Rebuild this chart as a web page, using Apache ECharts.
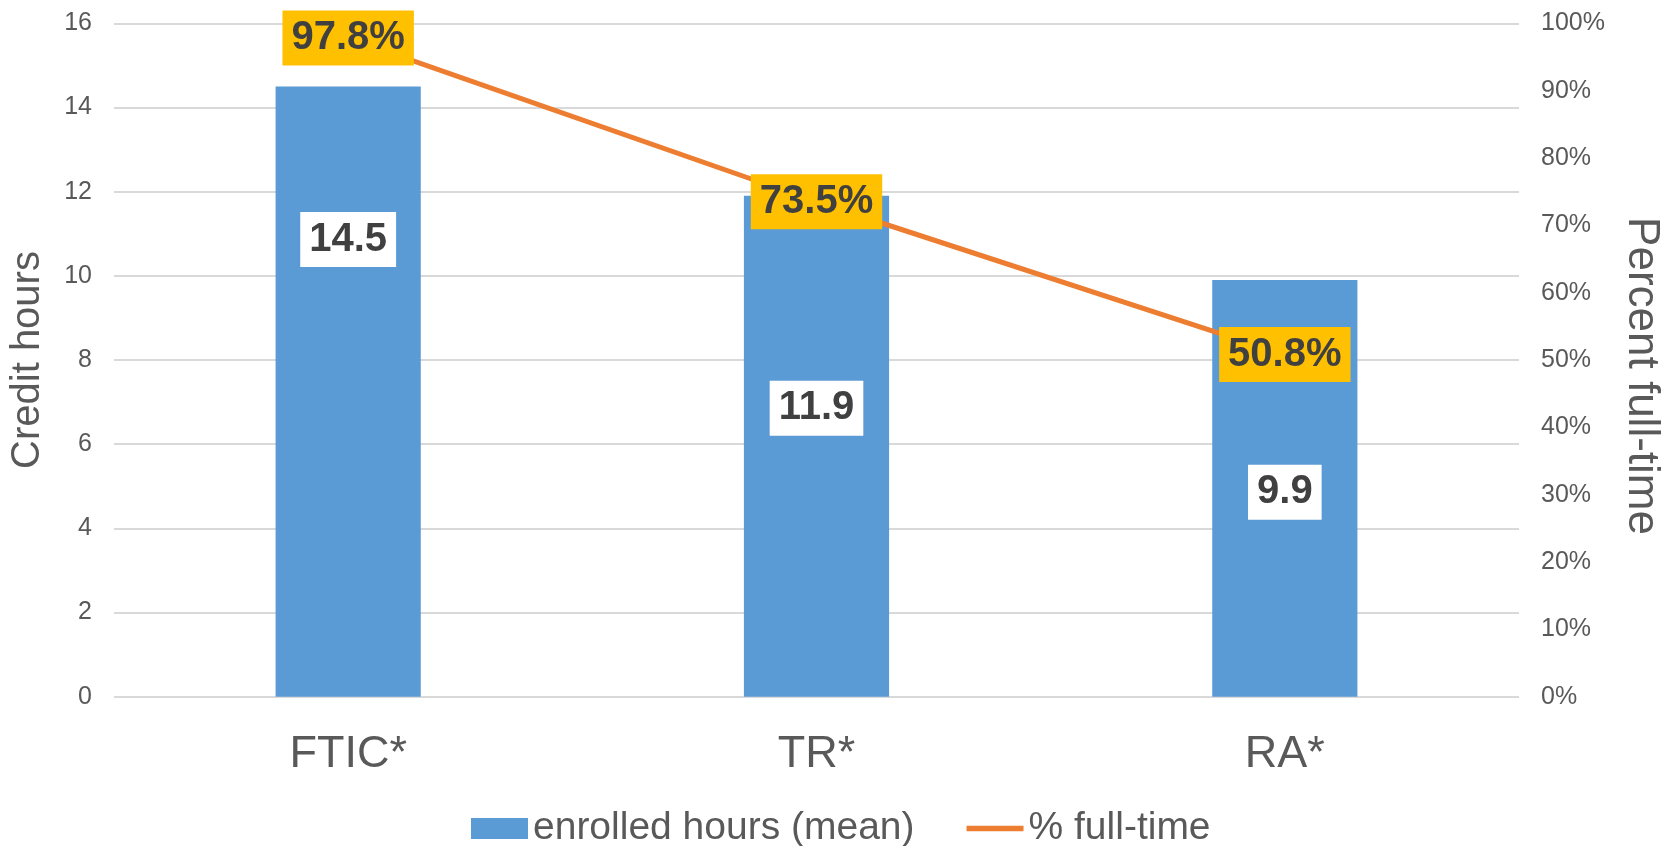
<!DOCTYPE html>
<html>
<head>
<meta charset="utf-8">
<script src="https://cdn.jsdelivr.net/npm/echarts@6/dist/echarts.min.js"></script>
<style>
  html, body { margin: 0; padding: 0; background: #fff; }
  #chart { width: 1671px; height: 846px; }
</style>
</head>
<body>
<div id="chart"></div>
<script>
// categories and values
const categories = ['FTIC*', 'TR*', 'RA*'];
const enrolledHours = [14.5, 11.9, 9.9];
const pctFullTime = [97.8, 73.5, 50.8];

const FONT = '"Liberation Sans", Arial, sans-serif';
const GREY = '#595959';

// the bar labels sit at hand-placed heights in the original
const barLabelShift = [-152, -38, 4];

const myChart = echarts.init(document.getElementById('chart'));

const options = {
    animation: false,
    textStyle: { fontFamily: FONT },
    grid: {
        left: 110,
        right: 145,
        top: 23.3,
        bottom: 149.3
    },
    legend: {
        left: 466,
        top: 804,
        itemWidth: 57,
        itemHeight: 21,
        itemGap: 52,
        textStyle: { fontSize: 39, color: GREY, fontFamily: FONT },
        data: [
            { name: 'enrolled hours (mean)', icon: 'rect' },
            { name: '% full-time', icon: 'path://M0,0 L60,0 L60,6 L0,6 Z' }
        ]
    },
    xAxis: {
        type: 'category',
        data: categories,
        axisLine: { show: false },
        axisTick: { show: false },
        axisLabel: {
            color: GREY,
            fontSize: 45,
            margin: 35
        }
    },
    yAxis: [
        {
            type: 'value',
            min: 0,
            max: 16,
            interval: 2,
            name: 'Credit hours',
            nameLocation: 'middle',
            nameGap: 66,
            nameRotate: 90,
            nameTextStyle: { color: GREY, fontSize: 40 },
            axisLine: { show: false },
            axisTick: { show: false },
            axisLabel: { color: GREY, fontSize: 25, margin: 22 },
            splitLine: { lineStyle: { color: '#D9D9D9', width: 2 } }
        },
        {
            type: 'value',
            min: 0,
            max: 100,
            interval: 10,
            name: 'Percent full-time',
            nameLocation: 'middle',
            nameGap: 100,
            nameRotate: -90,
            nameTextStyle: { color: GREY, fontSize: 44, padding: [0, 0, 0, 32] },
            axisLine: { show: false },
            axisTick: { show: false },
            axisLabel: { color: GREY, fontSize: 25, margin: 22, formatter: '{value}%' },
            splitLine: { show: false }
        }
    ],
    series: [
        {
            name: 'enrolled hours (mean)',
            type: 'bar',
            barWidth: '31%',
            itemStyle: { color: '#5B9BD5' },
            data: enrolledHours.map((v, i) => ({
                value: v,
                label: { offset: [0, barLabelShift[i]] }
            })),
            label: {
                show: true,
                position: 'inside',
                color: '#404040',
                fontWeight: 'bold',
                fontSize: 40,
                lineHeight: 40,
                backgroundColor: '#FFFFFF',
                padding: [8, 9, 7, 9],
                formatter: p => p.value.toFixed(1)
            }
        },
        {
            name: '% full-time',
            type: 'line',
            yAxisIndex: 1,
            symbol: 'circle',
            symbolSize: 0,
            lineStyle: { color: '#ED7D31', width: 5 },
            itemStyle: { color: '#ED7D31' },
            data: pctFullTime,
            label: {
                show: true,
                position: 'inside',
                color: '#404040',
                fontWeight: 'bold',
                fontSize: 40,
                lineHeight: 40,
                backgroundColor: '#FFC000',
                padding: [8, 9, 7, 9],
                formatter: p => p.value.toFixed(1) + '%'
            },
            z: 3
        }
    ]
};

myChart.setOption(options);
</script>
</body>
</html>
